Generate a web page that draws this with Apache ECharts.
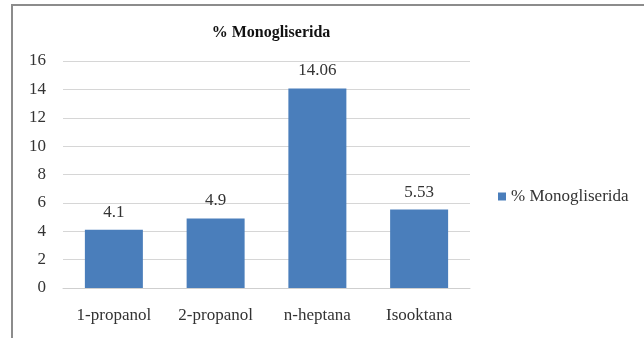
<!DOCTYPE html>
<html>
<head>
<meta charset="utf-8">
<script src="https://cdn.jsdelivr.net/npm/echarts@6/dist/echarts.min.js"></script>
<style>
  html, body { margin: 0; padding: 0; background: #fff; }
  #chart { width: 644px; height: 338px; }
</style>
</head>
<body>
<div id="chart"></div>
<script>
// Solvent categories and monoglyceride yield (%)
const categories = ['1-propanol', '2-propanol', 'n-heptana', 'Isooktana'];
const monogliserida = [4.1, 4.9, 14.06, 5.53];
const seriesName = '% Monogliserida';
const chartTitle = '% Monogliserida';

const serif = '"Liberation Serif", "DejaVu Serif", serif';
const chart = echarts.init(document.getElementById('chart'));

chart.setOption({
  backgroundColor: '#ffffff',
  animation: false,
  graphic: [{
    type: 'rect',
    shape: { x: 12, y: 5, width: 642, height: 345 },
    style: { fill: 'none', stroke: '#8c8c8c', lineWidth: 2 },
    silent: true,
    z: -1
  }],
  title: {
    text: chartTitle,
    left: 266,
    top: 20,
    textAlign: 'center',
    textStyle: { fontFamily: serif, fontWeight: 'bold', fontSize: 16, color: '#111' }
  },
  legend: {
    data: [seriesName],
    left: 493,
    top: 183,
    itemWidth: 8,
    itemHeight: 8,
    itemGap: 5,
    icon: 'rect',
    textStyle: { fontFamily: serif, fontSize: 17, color: '#333' }
  },
  grid: { left: 63, right: 174, top: 61, bottom: 50, containLabel: false },
  xAxis: {
    type: 'category',
    data: categories,
    axisTick: { show: false },
    axisLine: { lineStyle: { color: '#cfcfcf' } },
    axisLabel: { fontFamily: serif, fontSize: 17, color: '#333', margin: 19 }
  },
  yAxis: {
    type: 'value',
    min: 0,
    max: 16,
    interval: 2,
    axisLine: { show: false },
    axisTick: { show: false },
    splitLine: { lineStyle: { color: '#d6d6d6' } },
    axisLabel: { fontFamily: serif, fontSize: 17, color: '#333', margin: 17 }
  },
  series: [{
    name: seriesName,
    type: 'bar',
    data: monogliserida,
    barWidth: '57%',
    itemStyle: { color: '#4a7ebb' },
    label: {
      show: true,
      position: 'top',
      distance: 9,
      fontFamily: serif,
      fontSize: 17,
      color: '#333'
    }
  }]
});
</script>
</body>
</html>
